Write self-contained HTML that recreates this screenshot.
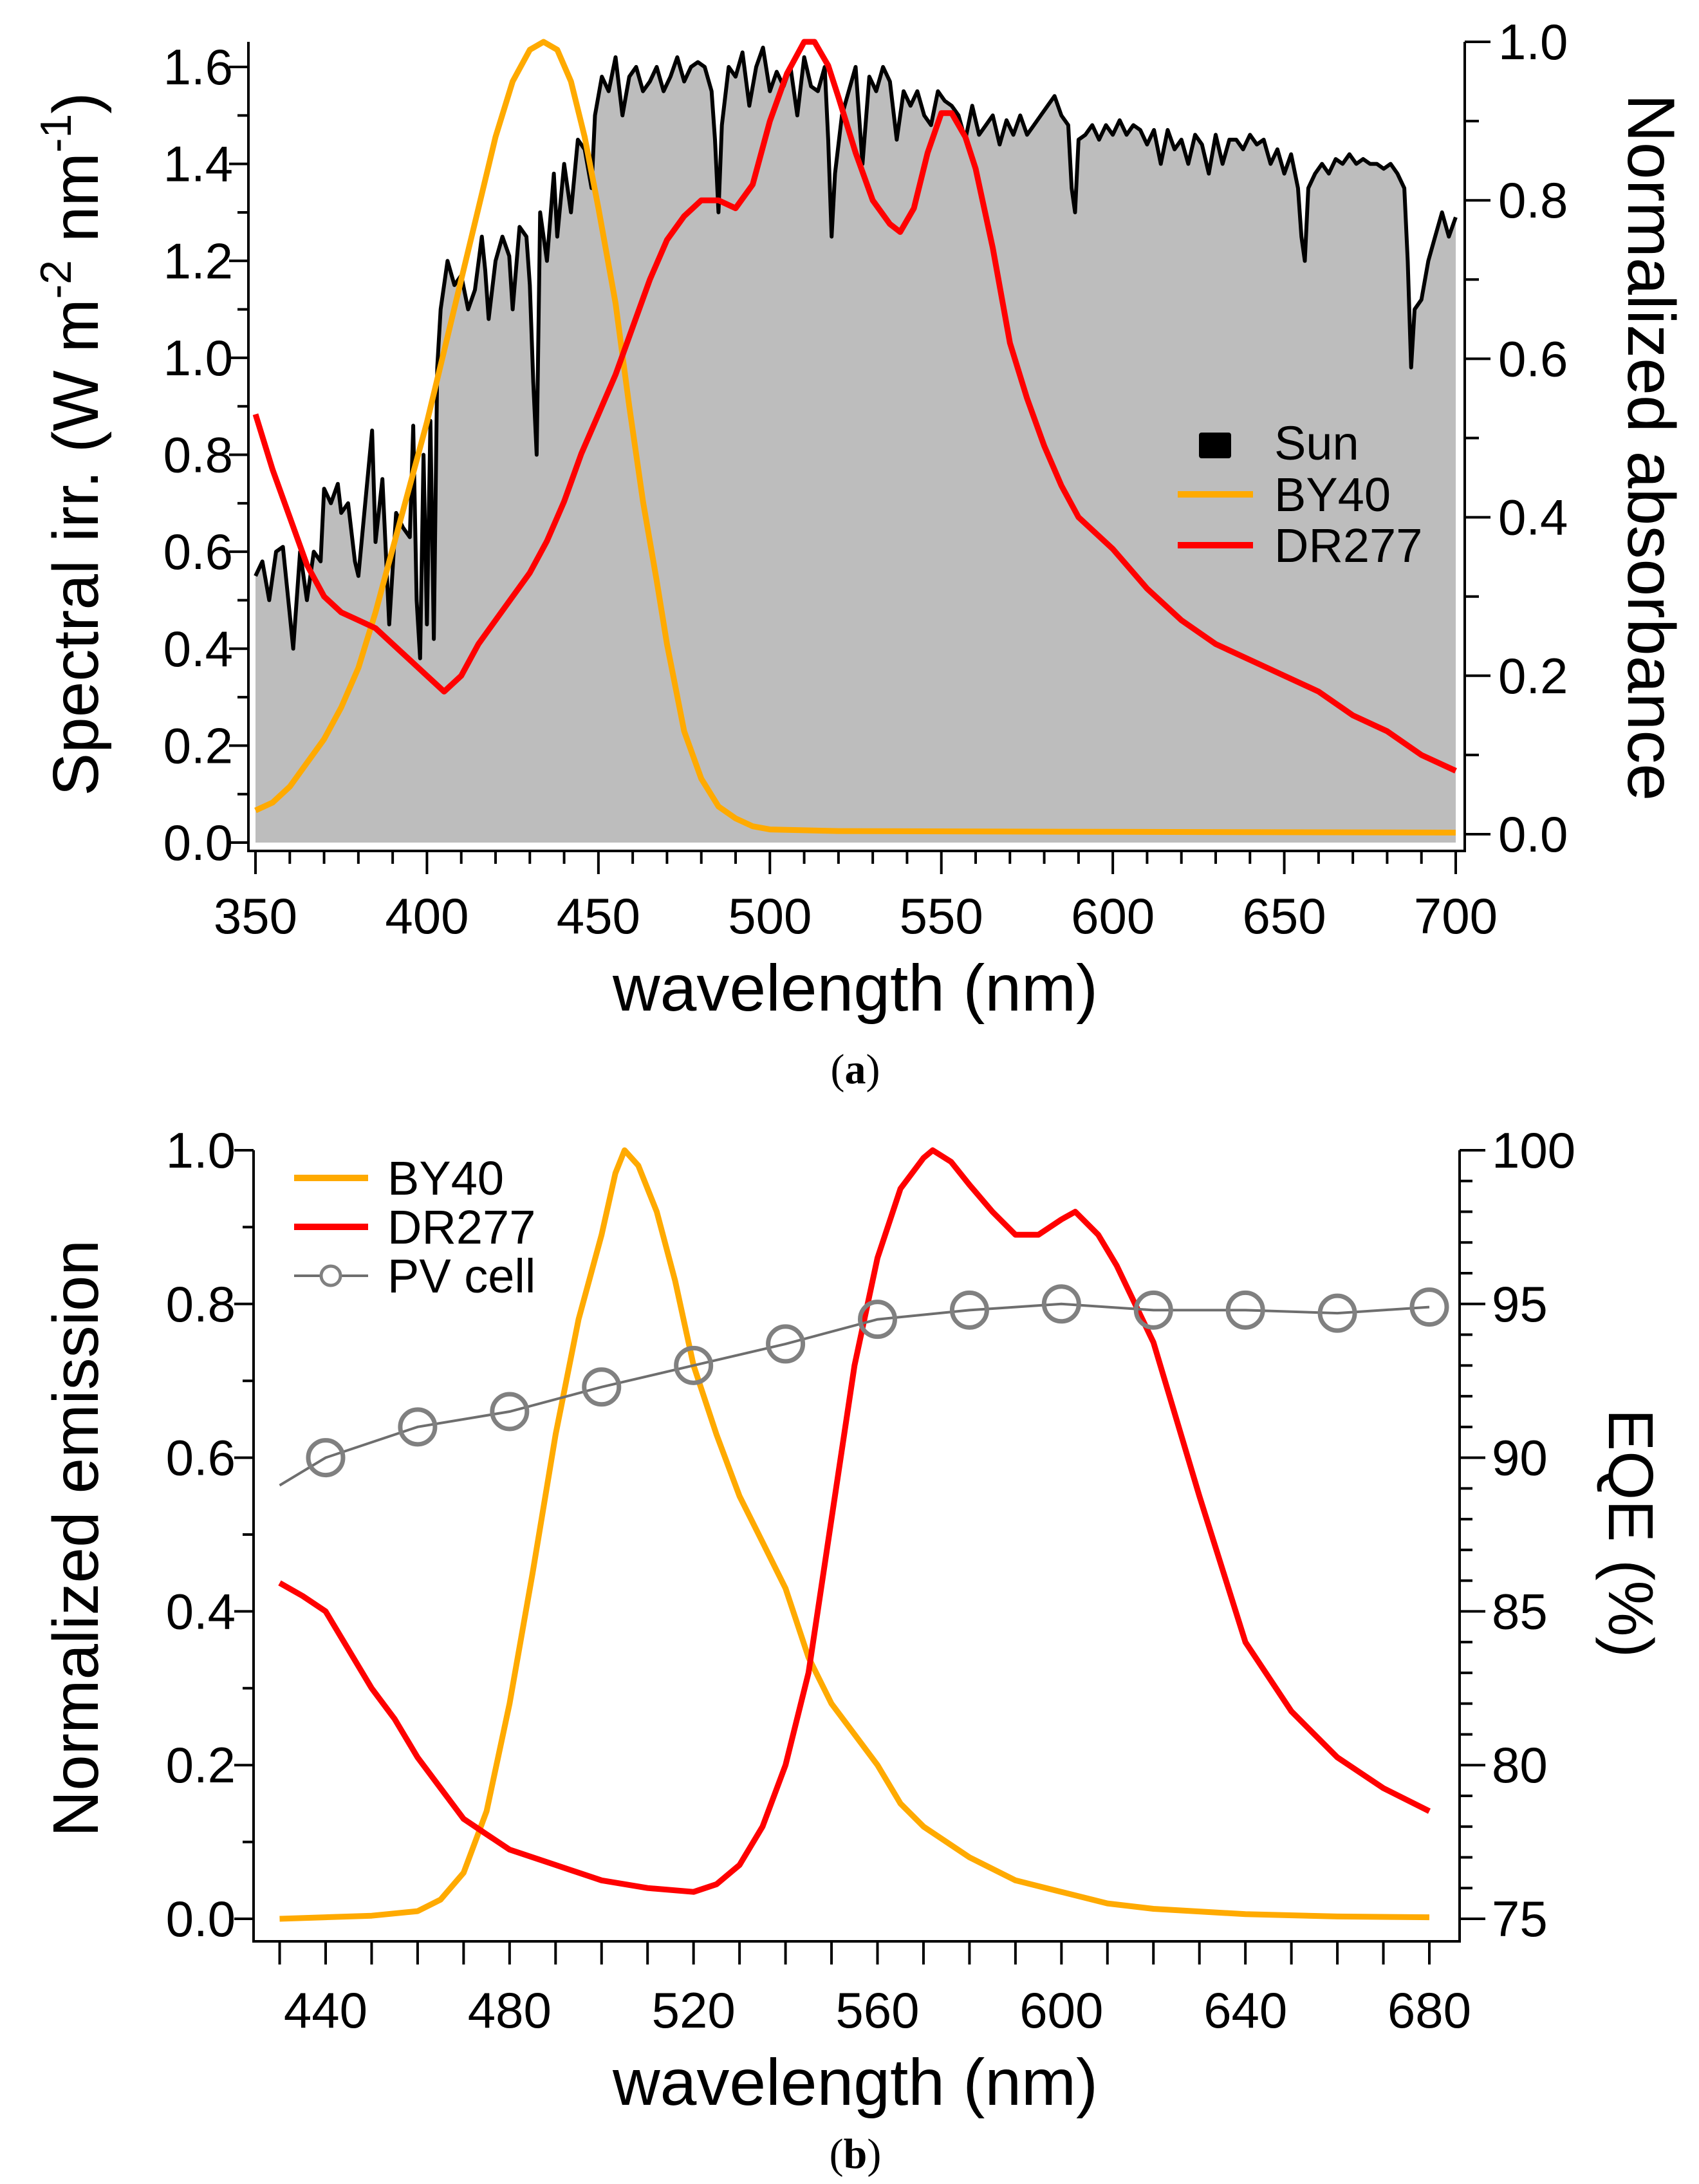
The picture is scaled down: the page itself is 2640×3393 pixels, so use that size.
<!DOCTYPE html>
<html><head><meta charset="utf-8"><style>
html,body{margin:0;padding:0;background:#fff;}
svg{display:block;font-family:"Liberation Sans",Arial,sans-serif;}
</style></head><body>
<svg id="fig" width="2640" height="3393" viewBox="0 0 2640 3393" xmlns="http://www.w3.org/2000/svg">
<g id="pa"></g>
<g id="pb"></g>
</svg>
<script>
// ---------- Panel (a) data ----------
const sunWl=[350,352,354,356,358,360,361,363,365,367,369,370,372,374,375,377,379,380,382,384,385,387,388,389,391,393,395,396,397,398,399,400,401,402,403,404,406,408,410,412,414,416,417,418,420,422,424,425,427,429,430,431,432,433,435,437,438,440,442,444,446,448,449,451,453,455,457,459,461,463,465,467,469,471,473,475,477,479,481,483,484,485,486,488,490,492,494,496,498,500,502,504,506,508,510,512,514,516,517,518,519,521,523,525,527,529,531,533,535,537,539,541,543,545,547,549,551,553,555,557,559,561,563,565,567,569,571,573,575,577,579,581,583,585,587,588,589,590,592,594,596,598,600,602,604,606,608,610,612,614,616,618,620,622,624,626,628,630,632,634,636,638,640,642,644,646,648,650,652,654,655,656,657,659,661,663,665,667,669,671,673,675,677,679,681,683,685,686,687,688,690,692,694,696,698,700];
const sunVal=[0.55,0.58,0.50,0.60,0.61,0.47,0.40,0.60,0.50,0.60,0.58,0.73,0.70,0.74,0.68,0.70,0.58,0.55,0.70,0.85,0.62,0.75,0.60,0.45,0.68,0.65,0.63,0.86,0.50,0.38,0.80,0.45,0.87,0.42,0.98,1.10,1.20,1.15,1.17,1.10,1.14,1.25,1.18,1.08,1.20,1.25,1.21,1.10,1.27,1.25,1.15,0.95,0.80,1.30,1.20,1.38,1.25,1.40,1.30,1.45,1.43,1.35,1.50,1.58,1.55,1.62,1.50,1.58,1.60,1.55,1.57,1.60,1.55,1.58,1.62,1.57,1.60,1.61,1.60,1.55,1.45,1.30,1.48,1.60,1.58,1.63,1.52,1.60,1.64,1.55,1.59,1.56,1.60,1.50,1.62,1.56,1.55,1.60,1.45,1.25,1.38,1.50,1.55,1.60,1.40,1.58,1.55,1.60,1.57,1.45,1.55,1.52,1.55,1.50,1.48,1.55,1.53,1.52,1.50,1.45,1.52,1.46,1.48,1.50,1.44,1.49,1.46,1.50,1.46,1.48,1.50,1.52,1.54,1.50,1.48,1.35,1.30,1.45,1.46,1.48,1.45,1.48,1.46,1.49,1.46,1.48,1.47,1.44,1.47,1.40,1.47,1.43,1.45,1.40,1.46,1.44,1.38,1.46,1.40,1.45,1.45,1.43,1.46,1.44,1.45,1.40,1.43,1.38,1.42,1.35,1.25,1.20,1.35,1.38,1.40,1.38,1.41,1.40,1.42,1.40,1.41,1.40,1.40,1.39,1.40,1.38,1.35,1.20,0.98,1.10,1.12,1.20,1.25,1.30,1.25,1.29];
const absByWl=[350,355,360,365,370,375,380,385,390,395,400,405,410,415,420,425,430,434,438,442,446,450,455,459,463,467,470,475,480,485,490,495,500,520,600,700];
const absBy=[0.03,0.04,0.06,0.09,0.12,0.16,0.21,0.28,0.36,0.44,0.52,0.61,0.70,0.79,0.88,0.95,0.99,1.0,0.99,0.95,0.88,0.79,0.67,0.54,0.42,0.32,0.24,0.13,0.07,0.035,0.02,0.01,0.006,0.004,0.003,0.002];
const absDrWl=[350,355,360,365,370,375,380,385,390,395,400,405,410,415,420,425,430,435,440,445,450,455,460,465,470,475,480,485,490,495,500,505,510,513,517,520,525,530,535,538,542,546,550,553,557,560,565,570,575,580,585,590,595,600,610,620,630,640,650,660,670,680,690,700];
const absDr=[0.53,0.46,0.40,0.34,0.30,0.28,0.27,0.26,0.24,0.22,0.20,0.18,0.20,0.24,0.27,0.30,0.33,0.37,0.42,0.48,0.53,0.58,0.64,0.70,0.75,0.78,0.80,0.80,0.79,0.82,0.90,0.96,1.0,1.0,0.97,0.93,0.86,0.80,0.77,0.76,0.79,0.86,0.91,0.91,0.88,0.84,0.74,0.62,0.55,0.49,0.44,0.40,0.38,0.36,0.31,0.27,0.24,0.22,0.20,0.18,0.15,0.13,0.10,0.08];
const aXTicks=[350,400,450,500,550,600,650,700];
const aLeftTicks=[0,0.2,0.4,0.6,0.8,1.0,1.2,1.4,1.6];
const aRightTicks=[0,0.2,0.4,0.6,0.8,1.0];
// ---------- Panel (b) data ----------
const emByWl=[430,440,450,460,465,470,475,480,485,490,495,500,503,505,508,512,516,520,525,530,535,540,545,550,555,560,565,570,575,580,590,600,610,620,640,660,680];
const emBy=[0,0.002,0.004,0.01,0.025,0.06,0.14,0.28,0.45,0.63,0.78,0.89,0.97,1.0,0.98,0.92,0.83,0.72,0.63,0.55,0.49,0.43,0.34,0.28,0.24,0.20,0.15,0.12,0.10,0.08,0.05,0.035,0.02,0.013,0.006,0.003,0.002];
const emDrWl=[430,435,440,445,450,455,460,465,470,475,480,490,500,510,520,525,530,535,540,545,550,555,560,565,570,572,576,580,585,590,595,600,603,608,612,620,630,640,650,660,670,680];
const emDr=[0.437,0.42,0.40,0.35,0.30,0.26,0.21,0.17,0.13,0.11,0.09,0.07,0.05,0.04,0.035,0.045,0.07,0.12,0.20,0.32,0.52,0.72,0.86,0.95,0.99,1.0,0.985,0.955,0.92,0.89,0.89,0.91,0.92,0.89,0.85,0.75,0.55,0.36,0.27,0.21,0.17,0.14];
const pvWl=[430,440,460,480,500,520,540,560,580,600,620,640,660,680];
const pvEqe=[89.1,90,91,91.5,92.3,93,93.7,94.5,94.8,95,94.8,94.8,94.7,94.9];
const bXTicks=[440,480,520,560,600,640,680];
const bLeftTicks=[0,0.2,0.4,0.6,0.8,1.0];
const bRightTicks=[75,80,85,90,95,100];

const NS="http://www.w3.org/2000/svg";
function mk(parent,tag,attrs,text){const e=document.createElementNS(NS,tag);for(const k in attrs)e.setAttribute(k,attrs[k]);if(text!==undefined)e.textContent=text;parent.appendChild(e);return e;}
function lin(d0,d1,r0,r1){return v=>r0+(v-d0)*(r1-r0)/(d1-d0);}
function pathD(xs,ys,fx,fy){return xs.map((x,i)=>(i?'L':'M')+fx(x).toFixed(1)+','+fy(ys[i]).toFixed(1)).join('');}
const TF=78;

// ================= Panel A =================
(function(){
const g=document.getElementById('pa');
const x=lin(350,700,397,2262), yl=lin(0,1.6,1309,104), yr=lin(0,1.0,1296,65);
const L=386,R=2276,B=1322,T=65;
let d=pathD(sunWl,sunVal,x,yl)+'L'+x(700)+','+yl(0)+'L'+x(350)+','+yl(0)+'Z';
let e=mk(g,'path',{d:d,fill:'#bdbdbd',stroke:'none'});


e=mk(g,'path',{d:pathD(sunWl,sunVal,x,yl),fill:'none',stroke:'#000','stroke-width':6,'stroke-linejoin':'round'});


e=mk(g,'path',{d:pathD(absByWl,absBy,x,yr),fill:'none',stroke:'#ffaa00','stroke-width':9,'stroke-linejoin':'round'});


e=mk(g,'path',{d:pathD(absDrWl,absDr,x,yr),fill:'none',stroke:'#ff0000','stroke-width':9,'stroke-linejoin':'round'});


const ax=mk(g,'g',{stroke:'#000','stroke-width':4,fill:'none'});


mk(ax,'line',{x1:L,y1:T,x2:L,y2:B+2});
mk(ax,'line',{x1:L-2,y1:B,x2:R+2,y2:B});
mk(ax,'line',{x1:R,y1:T,x2:R,y2:B+2});
for(let v=350;v<=700;v+=10){const maj=v%50===0;mk(ax,'line',{x1:x(v),y1:B,x2:x(v),y2:B+(maj?36:20)});}
for(let i=0;i<=16;i++){const v=i/10;const maj=i%2===0;mk(ax,'line',{x1:L,y1:yl(v),x2:L-(maj?30:17),y2:yl(v)});}
for(let i=0;i<=10;i++){const v=i/10;const maj=i%2===0;mk(ax,'line',{x1:R,y1:yr(v),x2:R+(maj?40:22),y2:yr(v)});}
aXTicks.forEach(v=>{const t=mk(g,'text',{x:x(v),y:1450,'font-size':TF,'text-anchor':'middle'},String(v));});
aLeftTicks.forEach(v=>{const t=mk(g,'text',{x:362,y:yl(v)+27,'font-size':TF,'text-anchor':'end'},v.toFixed(1));});
aRightTicks.forEach(v=>{const t=mk(g,'text',{x:2328,y:yr(v)+27,'font-size':TF,'text-anchor':'start'},v.toFixed(1));});
const lg=mk(g,'g',{});


mk(lg,'rect',{x:1863,y:672,width:50,height:40,fill:'#000',rx:4});
mk(lg,'text',{x:1980,y:714,'font-size':74},'Sun');
mk(lg,'line',{x1:1830,y1:768,x2:1947,y2:768,stroke:'#ffaa00','stroke-width':10});
mk(lg,'text',{x:1980,y:794,'font-size':74},'BY40');
mk(lg,'line',{x1:1830,y1:847,x2:1947,y2:847,stroke:'#ff0000','stroke-width':10});
mk(lg,'text',{x:1980,y:873,'font-size':74},'DR277');
})();

// ================= Panel B =================
(function(){
const g=document.getElementById('pb');
const x=lin(440,680,506,2221), yl=lin(0,1.0,2981,1787), yr=lin(75,100,2981,1787);
const L=394,R=2268,B=3016,T=1787;
let e=mk(g,'path',{d:pathD(emByWl,emBy,x,yl),fill:'none',stroke:'#ffaa00','stroke-width':9,'stroke-linejoin':'round'});


e=mk(g,'path',{d:pathD(emDrWl,emDr,x,yl),fill:'none',stroke:'#ff0000','stroke-width':9,'stroke-linejoin':'round'});


e=mk(g,'path',{d:pathD(pvWl,pvEqe,x,yr),fill:'none',stroke:'#6e6e6e','stroke-width':4});


pvWl.forEach((w,i)=>{if(w<440)return;const c=mk(g,'circle',{cx:x(w),cy:yr(pvEqe[i]),r:27,fill:'none',stroke:'#808080','stroke-width':7});

});
const ax=mk(g,'g',{stroke:'#000','stroke-width':4,fill:'none'});


mk(ax,'line',{x1:L,y1:T,x2:L,y2:B+2});
mk(ax,'line',{x1:L-2,y1:B,x2:R+2,y2:B});
mk(ax,'line',{x1:R,y1:T,x2:R,y2:B+2});
for(let v=430;v<=680;v+=10){mk(ax,'line',{x1:x(v),y1:B,x2:x(v),y2:B+36});}
for(let i=0;i<=10;i++){const v=i/10;const maj=i%2===0;mk(ax,'line',{x1:L,y1:yl(v),x2:L-(maj?30:17),y2:yl(v)});}
for(let v=75;v<=100;v++){const maj=v%5===0;mk(ax,'line',{x1:R,y1:yr(v),x2:R+(maj?40:20),y2:yr(v)});}
bXTicks.forEach(v=>{const t=mk(g,'text',{x:x(v),y:3150,'font-size':TF,'text-anchor':'middle'},String(v));});
bLeftTicks.forEach(v=>{const t=mk(g,'text',{x:366,y:yl(v)+27,'font-size':TF,'text-anchor':'end'},v.toFixed(1));});
bRightTicks.forEach(v=>{const t=mk(g,'text',{x:2318,y:yr(v)+27,'font-size':TF,'text-anchor':'start'},String(v));});
const lg=mk(g,'g',{});


mk(lg,'line',{x1:457,y1:1830,x2:572,y2:1830,stroke:'#ffaa00','stroke-width':10});
mk(lg,'text',{x:602,y:1856,'font-size':74},'BY40');
mk(lg,'line',{x1:457,y1:1906,x2:572,y2:1906,stroke:'#ff0000','stroke-width':10});
mk(lg,'text',{x:602,y:1932,'font-size':74},'DR277');
mk(lg,'line',{x1:457,y1:1982,x2:572,y2:1982,stroke:'#6e6e6e','stroke-width':4});
mk(lg,'circle',{cx:514,cy:1982,r:15,fill:'#fff',stroke:'#808080','stroke-width':5});
mk(lg,'text',{x:602,y:2008,'font-size':74},'PV cell');
})();
</script>
<svg width="2640" height="3393" style="position:absolute;left:0;top:0" xmlns="http://www.w3.org/2000/svg">
<text transform="translate(152,690) rotate(-90)" text-anchor="middle" font-family="Liberation Sans,sans-serif" font-size="100">Spectral irr. (W m<tspan dy="-42" font-size="68">-2</tspan><tspan dy="42"> nm</tspan><tspan dy="-42" font-size="68">-1</tspan><tspan dy="42">)</tspan></text>
<text transform="translate(2530,695) rotate(90)" text-anchor="middle" font-family="Liberation Sans,sans-serif" font-size="104">Normalized absorbance</text>
<text x="1329" y="1570" text-anchor="middle" font-family="Liberation Sans,sans-serif" font-size="102">wavelength (nm)</text>
<text x="1329" y="1683" text-anchor="middle" font-family="Liberation Serif,serif" font-size="66">(<tspan font-weight="bold">a</tspan>)</text>
<text transform="translate(152,2390) rotate(-90)" text-anchor="middle" font-family="Liberation Sans,sans-serif" font-size="100">Normalized emission</text>
<text transform="translate(2500,2382) rotate(90)" text-anchor="middle" font-family="Liberation Sans,sans-serif" font-size="98">EQE (%)</text>
<text x="1329" y="3270" text-anchor="middle" font-family="Liberation Sans,sans-serif" font-size="102">wavelength (nm)</text>
<text x="1329" y="3368" text-anchor="middle" font-family="Liberation Serif,serif" font-size="66">(<tspan font-weight="bold">b</tspan>)</text>
</svg>
</body></html>
